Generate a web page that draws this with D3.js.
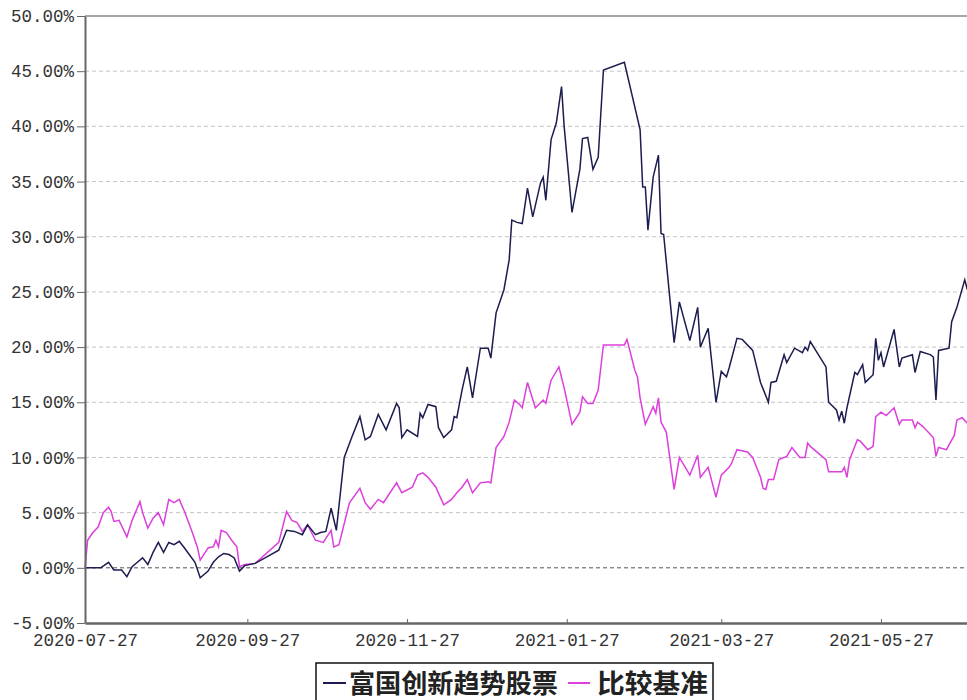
<!DOCTYPE html>
<html>
<head>
<meta charset="utf-8">
<script src="https://cdn.jsdelivr.net/npm/d3@7"></script>
<style>
  body { margin: 0; background: #fff; }
  svg { display: block; }
</style>
</head>
<body>
<div id="chart"></div>
<script>
// fund cumulative return (%) by date
const fund = [
  ["2020-07-27",0.0],["2020-08-02",0.0],["2020-08-05",0.5],["2020-08-07",-0.2],["2020-08-10",-0.2],
  ["2020-08-12",-0.8],["2020-08-14",0.1],["2020-08-16",0.5],["2020-08-18",0.9],["2020-08-20",0.3],
  ["2020-08-22",1.4],["2020-08-24",2.3],["2020-08-26",1.4],["2020-08-28",2.3],["2020-08-30",2.1],
  ["2020-09-01",2.4],["2020-09-03",1.8],["2020-09-07",0.5],["2020-09-09",-0.9],["2020-09-12",-0.3],
  ["2020-09-14",0.5],["2020-09-16",1.0],["2020-09-18",1.3],["2020-09-20",1.2],["2020-09-22",0.9],
  ["2020-09-24",-0.3],["2020-09-26",0.2],["2020-09-30",0.4],["2020-10-09",1.6],["2020-10-12",3.4],
  ["2020-10-15",3.3],["2020-10-18",3.0],["2020-10-20",3.9],["2020-10-23",3.0],["2020-10-25",3.2],
  ["2020-10-27",3.3],["2020-10-29",5.4],["2020-10-31",3.4],["2020-11-03",10.0],["2020-11-06",11.9],
  ["2020-11-09",13.7],["2020-11-11",11.6],["2020-11-13",11.9],["2020-11-16",13.9],["2020-11-19",12.5],
  ["2020-11-23",14.9],["2020-11-24",14.5],["2020-11-25",11.8],["2020-11-27",12.5],["2020-12-01",11.9],
  ["2020-12-02",14.0],["2020-12-03",13.6],["2020-12-05",14.8],["2020-12-08",14.6],["2020-12-09",12.7],
  ["2020-12-11",11.8],["2020-12-14",12.5],["2020-12-15",13.7],["2020-12-16",13.6],["2020-12-18",16.1],
  ["2020-12-20",18.2],["2020-12-22",15.4],["2020-12-24",18.4],["2020-12-25",19.9],["2020-12-28",19.9],
  ["2020-12-29",19.0],["2020-12-31",23.1],["2021-01-02",24.5],["2021-01-03",25.2],["2021-01-05",27.9],
  ["2021-01-06",31.5],["2021-01-08",31.3],["2021-01-10",31.2],["2021-01-12",34.4],["2021-01-14",31.8],
  ["2021-01-17",34.9],["2021-01-18",35.4],["2021-01-19",33.3],["2021-01-21",38.8],["2021-01-23",40.3],
  ["2021-01-25",43.6],["2021-01-26",40.0],["2021-01-29",32.2],["2021-02-01",36.1],["2021-02-02",38.9],
  ["2021-02-04",39.0],["2021-02-06",36.1],["2021-02-08",37.2],["2021-02-10",45.1],["2021-02-18",45.8],
  ["2021-02-24",39.7],["2021-02-25",34.5],["2021-02-26",34.5],["2021-02-27",30.6],["2021-03-01",35.4],
  ["2021-03-03",37.4],["2021-03-04",30.3],["2021-03-05",30.2],["2021-03-09",20.4],["2021-03-11",24.1],
  ["2021-03-15",20.6],["2021-03-18",23.6],["2021-03-19",20.0],["2021-03-22",21.7],["2021-03-25",15.0],
  ["2021-03-27",17.8],["2021-03-29",17.3],["2021-03-30",18.1],["2021-04-02",20.8],["2021-04-04",20.7],
  ["2021-04-08",19.7],["2021-04-11",16.8],["2021-04-14",15.0],["2021-04-15",16.8],["2021-04-17",16.9],
  ["2021-04-20",19.3],["2021-04-21",18.6],["2021-04-24",19.9],["2021-04-27",19.5],["2021-04-28",20.0],
  ["2021-04-29",19.7],["2021-04-30",20.5],["2021-05-06",18.2],["2021-05-07",15.0],["2021-05-10",14.3],
  ["2021-05-11",13.4],["2021-05-12",14.2],["2021-05-13",13.1],["2021-05-14",14.5],["2021-05-17",17.7],
  ["2021-05-18",17.5],["2021-05-20",18.4],["2021-05-21",16.8],["2021-05-24",17.5],["2021-05-25",20.8],
  ["2021-05-26",18.8],["2021-05-27",19.5],["2021-05-28",18.2],["2021-06-01",21.6],["2021-06-03",18.2],
  ["2021-06-04",19.0],["2021-06-08",19.3],["2021-06-09",17.7],["2021-06-11",19.6],["2021-06-15",19.3],
  ["2021-06-16",19.1],["2021-06-17",15.2],["2021-06-18",19.7],["2021-06-22",19.9],["2021-06-23",22.3],
  ["2021-06-25",23.6],["2021-06-28",26.1],["2021-06-29",25.2]
];

// benchmark cumulative return (%)
const bench = [
  ["2020-07-27",0.0],["2020-07-28",2.5],["2020-07-30",3.2],["2020-08-01",3.7],["2020-08-03",5.0],
  ["2020-08-05",5.5],["2020-08-06",5.1],["2020-08-07",4.2],["2020-08-09",4.3],["2020-08-11",3.3],
  ["2020-08-12",2.8],["2020-08-14",4.3],["2020-08-17",6.0],["2020-08-18",5.0],["2020-08-20",3.6],
  ["2020-08-22",4.5],["2020-08-24",5.0],["2020-08-26",3.9],["2020-08-28",6.2],["2020-08-30",5.9],
  ["2020-09-01",6.2],["2020-09-03",5.1],["2020-09-06",3.2],["2020-09-08",1.8],["2020-09-09",0.7],
  ["2020-09-12",1.8],["2020-09-14",1.9],["2020-09-15",2.5],["2020-09-16",1.9],["2020-09-17",3.4],
  ["2020-09-19",3.2],["2020-09-21",2.5],["2020-09-23",1.9],["2020-09-24",0.1],["2020-09-26",0.3],
  ["2020-09-30",0.4],["2020-10-09",2.3],["2020-10-12",5.1],["2020-10-14",4.3],["2020-10-16",4.1],
  ["2020-10-18",3.3],["2020-10-20",3.9],["2020-10-23",2.5],["2020-10-26",2.3],["2020-10-29",3.4],
  ["2020-10-30",1.9],["2020-11-01",2.1],["2020-11-05",5.9],["2020-11-09",7.2],["2020-11-11",5.9],
  ["2020-11-13",5.3],["2020-11-16",6.2],["2020-11-18",5.9],["2020-11-23",7.7],["2020-11-25",6.8],
  ["2020-11-29",7.3],["2020-12-01",8.4],["2020-12-03",8.6],["2020-12-05",8.2],["2020-12-08",7.3],
  ["2020-12-11",5.7],["2020-12-14",6.2],["2020-12-16",6.8],["2020-12-18",7.3],["2020-12-20",8.0],
  ["2020-12-22",6.8],["2020-12-25",7.7],["2020-12-28",7.8],["2020-12-29",7.7],["2020-12-31",10.9],
  ["2021-01-03",11.9],["2021-01-05",13.2],["2021-01-07",15.2],["2021-01-09",14.8],["2021-01-10",14.5],
  ["2021-01-12",16.8],["2021-01-15",14.5],["2021-01-18",15.2],["2021-01-19",14.9],["2021-01-21",17.0],
  ["2021-01-24",18.2],["2021-01-26",16.3],["2021-01-29",13.0],["2021-02-01",14.1],["2021-02-02",15.5],
  ["2021-02-04",14.9],["2021-02-06",14.9],["2021-02-08",16.1],["2021-02-10",20.2],["2021-02-18",20.2],
  ["2021-02-19",20.7],["2021-02-22",17.9],["2021-02-23",17.3],["2021-02-24",15.4],["2021-02-26",13.0],
  ["2021-03-01",14.6],["2021-03-02",14.0],["2021-03-03",15.4],["2021-03-04",13.2],["2021-03-06",12.3],
  ["2021-03-09",7.1],["2021-03-11",10.0],["2021-03-15",8.4],["2021-03-18",10.2],["2021-03-19",8.2],
  ["2021-03-22",9.1],["2021-03-25",6.4],["2021-03-27",8.4],["2021-03-30",9.1],["2021-03-31",9.5],
  ["2021-04-02",10.7],["2021-04-06",10.5],["2021-04-08",10.0],["2021-04-11",8.2],["2021-04-12",7.2],
  ["2021-04-13",7.1],["2021-04-14",8.0],["2021-04-16",8.0],["2021-04-18",9.8],["2021-04-21",10.1],
  ["2021-04-23",10.9],["2021-04-26",10.0],["2021-04-28",10.0],["2021-04-29",11.3],["2021-04-30",11.0],
  ["2021-05-06",9.8],["2021-05-07",8.7],["2021-05-12",8.7],["2021-05-13",9.1],["2021-05-14",8.2],
  ["2021-05-15",9.8],["2021-05-18",11.6],["2021-05-19",11.5],["2021-05-22",10.7],["2021-05-24",11.0],
  ["2021-05-25",13.7],["2021-05-27",14.1],["2021-05-29",13.8],["2021-06-01",14.5],["2021-06-03",13.0],
  ["2021-06-04",13.4],["2021-06-08",13.4],["2021-06-09",12.7],["2021-06-10",13.2],["2021-06-12",12.8],
  ["2021-06-16",11.8],["2021-06-17",10.1],["2021-06-18",10.9],["2021-06-21",10.7],["2021-06-24",12.0],
  ["2021-06-25",13.4],["2021-06-27",13.6],["2021-06-29",13.1]
];

const yTicks = [-5, 0, 5, 10, 15, 20, 25, 30, 35, 40, 45, 50];
const xTicks = ["2020-07-27", "2020-09-27", "2020-11-27", "2021-01-27", "2021-03-27", "2021-05-27"];
const seriesNames = ["富国创新趋势股票", "比较基准"];
const seriesColors = ["#1c1c50", "#dd3fdd"];

const width = 967, height = 700;
const margin = { left: 85, right: 970, top: 16, bottom: 623 };

const parse = d3.timeParse("%Y-%m-%d");

const x = d3.scaleTime()
    .domain([parse("2020-07-27"), parse("2021-06-30")])
    .range([margin.left, margin.right]);

const y = d3.scaleLinear()
    .domain([-5, 50])
    .range([margin.bottom, margin.top]);

const svg = d3.select("#chart").append("svg")
    .attr("width", width)
    .attr("height", height);

// grid lines
svg.append("g")
    .selectAll("line")
    .data(yTicks.filter(d => d > -5 && d < 50))
    .join("line")
    .attr("x1", margin.left).attr("x2", margin.right)
    .attr("y1", d => y(d)).attr("y2", d => y(d))
    .attr("stroke", d => d === 0 ? "#555" : "#c4c4c4")
    .attr("stroke-width", 1)
    .attr("stroke-dasharray", "4,3");

// top border
svg.append("line")
    .attr("x1", margin.left).attr("x2", margin.right)
    .attr("y1", y(50)).attr("y2", y(50))
    .attr("stroke", "#888").attr("stroke-width", 1.5);

const line = d3.line()
    .x(d => x(parse(d[0])))
    .y(d => y(d[1]));

svg.append("path")
    .datum(bench)
    .attr("fill", "none")
    .attr("stroke", seriesColors[1])
    .attr("stroke-width", 1.5)
    .attr("d", line);

svg.append("path")
    .datum(fund)
    .attr("fill", "none")
    .attr("stroke", seriesColors[0])
    .attr("stroke-width", 1.5)
    .attr("d", line);

// y axis
const yAxis = svg.append("g")
    .attr("transform", `translate(${margin.left},0)`)
    .call(d3.axisLeft(y)
        .tickValues(yTicks)
        .tickFormat(d => d.toFixed(2) + "%")
        .tickSize(8)
        .tickSizeOuter(0)
        .tickPadding(3));
yAxis.select(".domain").attr("stroke", "#666").attr("stroke-width", 2);
yAxis.selectAll(".tick line").attr("stroke", "#666");
yAxis.selectAll("text")
    .attr("font-family", "'Liberation Mono', monospace")
    .attr("font-size", 17.5)
    .attr("fill", "#333");

// x axis
const xAxis = svg.append("g")
    .attr("transform", `translate(0,${margin.bottom})`)
    .call(d3.axisBottom(x)
        .tickValues(xTicks.map(parse))
        .tickFormat(d3.timeFormat("%Y-%m-%d"))
        .tickSize(-4)
        .tickSizeOuter(0));
xAxis.select(".domain").attr("stroke", "#666").attr("stroke-width", 2.5);
xAxis.selectAll(".tick line").attr("stroke", "#666");
xAxis.selectAll("text")
    .attr("y", 10)
    .attr("dy", "0.75em")
    .attr("font-family", "'Liberation Mono', monospace")
    .attr("font-size", 17.5)
    .attr("fill", "#333");

// legend
const legend = svg.append("g");
legend.append("rect")
    .attr("x", 316).attr("y", 663)
    .attr("width", 397).attr("height", 44)
    .attr("fill", "#fff")
    .attr("stroke", "#111")
    .attr("stroke-width", 1.5);

const legendItems = [
  { x1: 323, x2: 346, tx: 349, tw: 209 },
  { x1: 568, x2: 590, tx: 597, tw: 111 }
];
legendItems.forEach((it, i) => {
  legend.append("line")
      .attr("x1", it.x1).attr("x2", it.x2)
      .attr("y1", 683).attr("y2", 683)
      .attr("stroke", seriesColors[i])
      .attr("stroke-width", 2);
  legend.append("text")
      .attr("x", it.tx).attr("y", 693)
      .attr("font-family", "'Noto Sans CJK SC', sans-serif")
      .attr("font-weight", "bold")
      .attr("font-size", 26)
      .attr("fill", "#222")
      .attr("textLength", it.tw)
      .attr("lengthAdjust", "spacingAndGlyphs")
      .text(seriesNames[i]);
});
</script>
</body>
</html>
